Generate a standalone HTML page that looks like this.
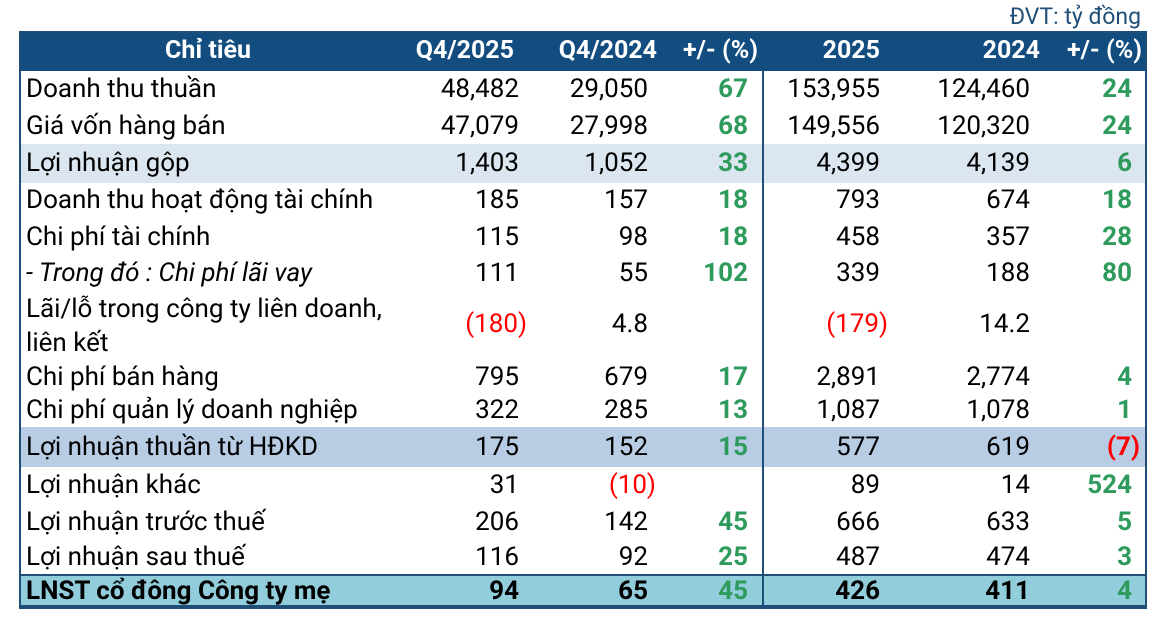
<!DOCTYPE html>
<html><head><meta charset="utf-8"><style>
body{margin:0;width:1158px;height:627px;background:#fff;position:relative;font-family:"Roboto","Liberation Sans","DejaVu Sans",sans-serif;overflow:hidden}
.a{position:absolute;white-space:nowrap}
.t{position:absolute;font-size:26px;color:#000;line-height:28px}
.g{color:#2e9a5c;font-weight:bold}
.red{color:#f00}
.h{color:#fff;font-weight:bold;font-size:25px}
</style></head><body>
<div class="a" style="right:17px;top:3px;font-size:23px;color:#1f4e79">ĐVT: tỷ đồng</div>
<div class="a" style="left:19px;top:31px;width:1128px;height:40px;background:#134d80"></div>
<div class="a" style="left:19px;top:31px;width:1124px;height:574px;border:2px solid #1f4e79"></div>
<div class="a" style="left:21px;top:144px;width:1124px;height:39px;background:#dce6f1"></div>
<div class="a" style="left:21px;top:427px;width:1124px;height:40px;background:#b8cce4"></div>
<div class="a" style="left:21px;top:574px;width:1124px;height:31px;background:#92cddc;border-top:2px solid #1f4e79"></div>
<div class="a" style="left:762px;top:71px;width:2px;height:536px;background:#1f4e79"></div>
<div class="a" style="left:19px;top:605px;width:1128px;height:2px;background:#1f4e79"></div>
<div id="c"></div>
<script>
var rows=[
[51,"Chỉ tiêu","Q4/2025","Q4/2024","+/- (%)","2025","2024","+/- (%)"],
[89,"Doanh thu thuần","48,482","29,050","67","153,955","124,460","24"],
[126,"Giá vốn hàng bán","47,079","27,998","68","149,556","120,320","24"],
[163,"Lợi nhuận gộp","1,403","1,052","33","4,399","4,139","6"],
[200,"Doanh thu hoạt động tài chính","185","157","18","793","674","18"],
[237,"Chi phí tài chính","115","98","18","458","357","28"],
[273,"<i>- Trong đó : Chi phí lãi vay</i>","111","55","102","339","188","80"],
[324,"Lãi/lỗ trong công ty liên doanh,<br>liên kết","(180)","4.8","","(179)","14.2",""],
[377,"Chi phí bán hàng","795","679","17","2,891","2,774","4"],
[410,"Chi phí quản lý doanh nghiệp","322","285","13","1,087","1,078","1"],
[447,"Lợi nhuận thuần từ HĐKD","175","152","15","577","619","(7)"],
[485,"Lợi nhuận khác","31","(10)","","89","14","524"],
[522,"Lợi nhuận trước thuế","206","142","45","666","633","5"],
[557,"Lợi nhuận sau thuế","116","92","25","487","474","3"],
[591,"LNST cổ đông Công ty mẹ","94","65","45","426","411","4"]];
var R=[519,648,748,880,1030,1132],H=[514,657,758,880,1040,1142];
var s="";
rows.forEach(function(r,i){
 var y=r[0];var last=i==14;
 if(i==0){
  s+='<div class="a h" style="left:0;width:416px;text-align:center;top:'+(y-14)+'px;line-height:28px">'+r[1]+'</div>';
  for(var k=0;k<6;k++)s+='<div class="a h" style="right:'+(1158-H[k])+'px;top:'+(y-14)+'px;line-height:28px">'+r[k+2]+'</div>';
  return;}
 var two=r[1].indexOf("<br>")>0;
 s+='<div class="a t" style="left:26px;top:'+(y-(two?32:14))+'px;'+(two?'white-space:normal;line-height:34px;':'')+(last?'font-weight:bold;':'')+'">'+r[1]+'</div>';
 for(var k=0;k<6;k++){var v=r[k+2];if(!v)continue;
  var neg=v[0]=="(";var cls="a t"+((k==2||k==5)?" g":"")+(neg?" red":"");
  var rt=R[k]+(neg?8:0);
  s+='<div class="'+cls+'" style="right:'+(1158-rt)+'px;top:'+(y-14)+'px;'+(last?'font-weight:bold;':'')+'">'+v+'</div>';}
});
document.getElementById("c").innerHTML=s;
</script>
</body></html>
